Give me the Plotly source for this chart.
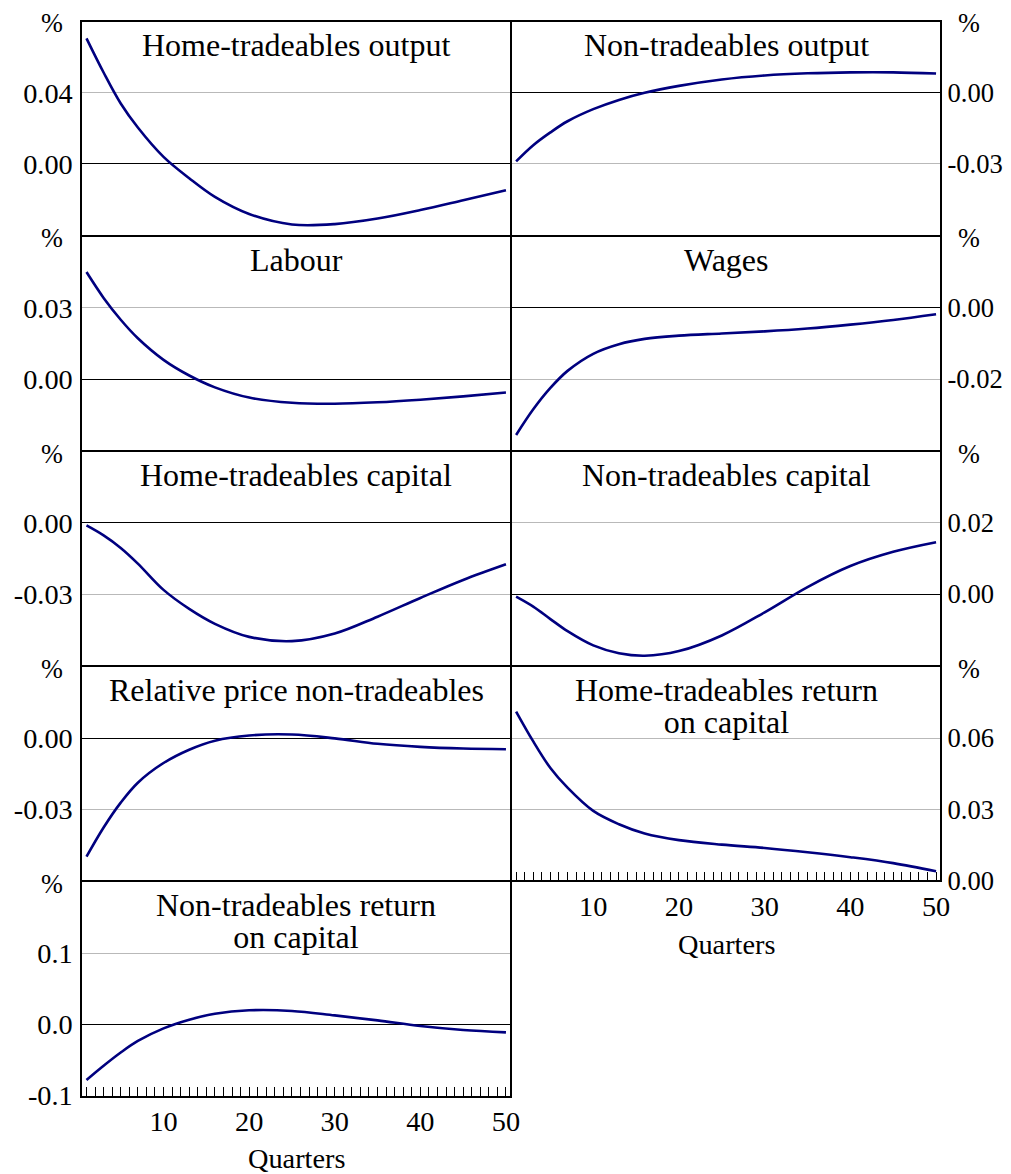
import plotly.graph_objects as go

# ---------------- data ----------------
quarters = [1, 3, 5, 7, 10, 13, 16, 20, 25, 30, 35, 40, 45, 50]

ht_output = [0.0706, 0.0514, 0.0340, 0.0205, 0.0040, -0.0080, -0.0185, -0.0281,
             -0.0340, -0.0338, -0.0307, -0.0259, -0.0204, -0.0148]
nt_output = [-0.0289, -0.0221, -0.0167, -0.0120, -0.0069, -0.0030, 0.0000, 0.0029,
             0.0056, 0.0073, 0.0082, 0.0086, 0.0086, 0.0081]
labour = [0.0451, 0.0342, 0.0250, 0.0172, 0.0081, 0.0015, -0.0035, -0.0078,
          -0.0100, -0.0104, -0.0098, -0.0087, -0.0073, -0.0057]
wages = [-0.0357, -0.0285, -0.0225, -0.0177, -0.0129, -0.0102, -0.0087, -0.0078,
         -0.0072, -0.0066, -0.0058, -0.0047, -0.0034, -0.0018]
ht_capital = [-0.0010, -0.0052, -0.0105, -0.0171, -0.0282, -0.0362, -0.0425, -0.0480,
              -0.0498, -0.0466, -0.0395, -0.0316, -0.0240, -0.0174]
nt_capital = [-0.0007, -0.0035, -0.0070, -0.0104, -0.0144, -0.0166, -0.0173, -0.0160,
              -0.0116, -0.0051, 0.0020, 0.0079, 0.0119, 0.0146]
rel_price = [-0.0500, -0.0377, -0.0272, -0.0188, -0.0105, -0.0049, -0.0011, 0.0011,
             0.0015, -0.0001, -0.0024, -0.0037, -0.0044, -0.0047]
ht_return = [0.0712, 0.0586, 0.0474, 0.0391, 0.0293, 0.0237, 0.0198, 0.0170,
             0.0151, 0.0137, 0.0119, 0.0098, 0.0073, 0.0039]
nt_return = [-0.0781, -0.0581, -0.0395, -0.0233, -0.0056, 0.0066, 0.0150, 0.0198,
             0.0189, 0.0126, 0.0056, -0.0023, -0.0079, -0.0112]

titles = [
    ["Home-tradeables output"],
    ["Non-tradeables output"],
    ["Labour"],
    ["Wages"],
    ["Home-tradeables capital"],
    ["Non-tradeables capital"],
    ["Relative price non-tradeables"],
    ["Home-tradeables return", "on capital"],
    ["Non-tradeables return", "on capital"],
]
series = [ht_output, nt_output, labour, wages, ht_capital, nt_capital,
          rel_price, ht_return, nt_return]
y_ranges = [[-0.04, 0.08], [-0.06, 0.03], [-0.03, 0.06], [-0.04, 0.02],
            [-0.06, 0.03], [-0.02, 0.04], [-0.06, 0.03], [0.0, 0.09], [-0.1, 0.2]]
y_tickvals = [[0.0, 0.04], [-0.03, 0.0], [0.0, 0.03], [-0.02, 0.0],
              [-0.03, 0.0], [0.0, 0.02], [-0.03, 0.0], [0.0, 0.03, 0.06],
              [-0.1, 0.0, 0.1]]
y_ticktext = [["0.00", "0.04"], ["-0.03", "0.00"], ["0.00", "0.03"], ["-0.02", "0.00"],
              ["-0.03", "0.00"], ["0.00", "0.02"], ["-0.03", "0.00"],
              ["0.00", "0.03", "0.06"], ["-0.1", "0.0", "0.1"]]
x_ticks = list(range(1, 51))
x_ticklabels = [str(q) if q % 10 == 0 else "" for q in x_ticks]

# ---------------- layout geometry ----------------
W, H = 1011, 1174
PAGE_MARGIN = 8                      # default body margin of the html page
SX, SY = 1019 / 1011, 1190 / 1174    # page -> photo compensation
COLS = [(81.5, 512.0), (512.0, 943.0)]
ROW_TOP0, ROW_H = 20.7, 215.15
LW = 1.6
FONT = "Liberation Serif"
NAVY = "#00007f"
TITLE_PX = 32


def px_x(p):
    return (p * SX - PAGE_MARGIN) / W


def px_y(p):
    return 1 - (p * SY - PAGE_MARGIN) / H


fig = go.Figure()
annotations = []
bottom_panels = {8, 9}

for i in range(9):
    n = i + 1
    col = i % 2
    row = i // 2
    x0, x1 = COLS[col]
    top = ROW_TOP0 + row * ROW_H
    bot = top + ROW_H
    sfx = "" if n == 1 else str(n)

    fig.add_trace(go.Scatter(
        x=quarters, y=series[i], mode="lines",
        line=dict(color=NAVY, width=2.6, shape="spline", smoothing=1.0),
        xaxis="x" + sfx, yaxis="y" + sfx, showlegend=False, hoverinfo="skip"))

    is_bottom = n in bottom_panels
    xa = dict(
        domain=[px_x(x0 + LW / 2), px_x(x1 - LW / 2)], anchor="y" + sfx, range=[0.5, 50.5],
        showline=True, mirror=True, linecolor="black", linewidth=LW,
        showgrid=False, zeroline=False, fixedrange=True,
    )
    if is_bottom:
        xa.update(tickmode="array", tickvals=x_ticks, ticktext=x_ticklabels,
                  ticks="inside", ticklen=9, tickwidth=1, tickcolor="black",
                  showticklabels=True, ticklabelstandoff=0,
                  tickfont=dict(family=FONT, size=28.3, color="black"))
    else:
        xa.update(ticks="", showticklabels=False)
    ya = dict(
        domain=[px_y(bot - LW / 2), px_y(top + LW / 2)], anchor="x" + sfx, range=y_ranges[i],
        side="left" if col == 0 else "right",
        showline=True, mirror=True, linecolor="black", linewidth=LW,
        tickmode="array", tickvals=y_tickvals[i], ticktext=y_ticktext[i],
        ticks="", showgrid=True, gridcolor="#b9b9b9", gridwidth=1,
        zeroline=True, zerolinecolor="black", zerolinewidth=1.2,
        ticklabelstandoff=2 if col == 0 else 0,
        tickfont=dict(family=FONT, size=28.3 if col == 0 else 26.6, color="black"),
        fixedrange=True,
    )
    fig.layout["xaxis" + sfx] = xa
    fig.layout["yaxis" + sfx] = ya

    # panel title: one text element; tight line spacing via a small base font
    lines = titles[i]
    if len(lines) == 1:
        annotations.append(dict(
            x=px_x((x0 + x1) / 2), y=px_y(top + 24), xref="paper", yref="paper",
            text=lines[0], showarrow=False, xanchor="center", yanchor="middle",
            font=dict(family=FONT, size=TITLE_PX, color="black")))
    else:
        txt = "<br>".join('<span style="font-size:%dpx">%s</span>' % (TITLE_PX, s) for s in lines)
        annotations.append(dict(
            x=px_x((x0 + x1) / 2), y=px_y(top + 24 + 15.75), xref="paper", yref="paper",
            text=txt, showarrow=False, xanchor="center", yanchor="middle",
            font=dict(family=FONT, size=31.5 * SY / 1.3, color="black")))
    # percent sign
    annotations.append(dict(
        x=px_x(52 if col == 0 else 971), y=px_y(top + 3), xref="paper", yref="paper",
        text="%", showarrow=False, xanchor="center", yanchor="middle",
        font=dict(family=FONT, size=26.3, color="black")))

# "Quarters" axis titles
annotations.append(dict(x=px_x(sum(COLS[0]) / 2), y=px_y(1159), xref="paper", yref="paper",
                        text="Quarters", showarrow=False, xanchor="center", yanchor="middle",
                        font=dict(family=FONT, size=28.3, color="black")))
annotations.append(dict(x=px_x(sum(COLS[1]) / 2), y=px_y(945), xref="paper", yref="paper",
                        text="Quarters", showarrow=False, xanchor="center", yanchor="middle",
                        font=dict(family=FONT, size=28.3, color="black")))

fig.update_layout(
    width=W, height=H, margin=dict(l=0, r=0, t=0, b=0),
    paper_bgcolor="white", plot_bgcolor="white",
    annotations=annotations, showlegend=False,
)

fig.write_html("out.html", config={"displayModeBar": False})
